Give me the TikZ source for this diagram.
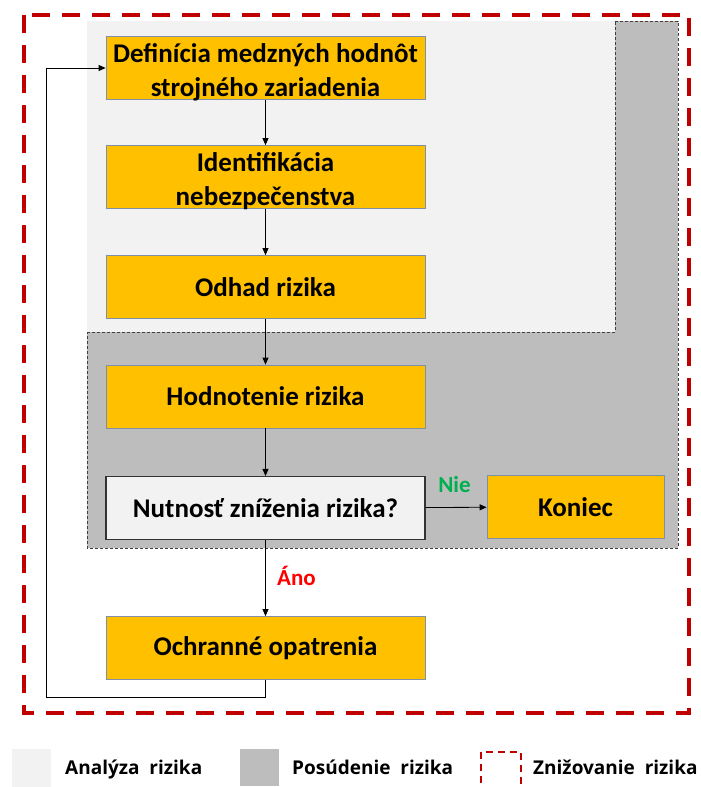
\documentclass[tikz,border=0pt]{standalone}
\usepackage{fontspec}
\setmainfont{Carlito}
\newfontfamily\legfont{Open Sans}
\usetikzlibrary{arrows.meta}
\definecolor{boxor}{HTML}{FFC000}
\definecolor{boxedge}{HTML}{7F8FA6}
\definecolor{lightbg}{HTML}{F2F2F2}
\definecolor{darkbg}{HTML}{BDBDBD}
\definecolor{redd}{HTML}{C00000}
\definecolor{nieg}{HTML}{00B050}
\definecolor{anor}{HTML}{FF0000}
\tikzset{
  stepbox/.style={draw=boxedge, line width=0.8pt, fill=boxor, minimum width=319pt, minimum height=63pt, align=center, font=\bfseries\fontsize{27}{34}\selectfont, inner sep=0pt},
  twoline/.style={label={[yshift=-4pt, align=center, font=\bfseries\fontsize{27}{34}\selectfont, inner sep=0pt]center:#1}},
  questbox/.style={stepbox, fill=lightbg, draw=black!80, line width=1.1pt},
  arr/.style={-{Triangle[length=7pt,width=6pt]}, line width=0.8pt, black},
  lbl/.style={font=\legfont\bfseries\fontsize{19}{22}\selectfont, anchor=west, inner sep=0pt},
  edgelbl/.style={font=\bfseries\fontsize{23}{26}\selectfont, inner sep=0pt},
  reddash/.style={draw=redd, line width=4pt, dash pattern=on 18pt off 12pt},
  graydash/.style={draw=black!75, line width=0.7pt, dash pattern=on 3pt off 2pt},
}
\begin{document}
\begin{tikzpicture}[x=1pt,y=-1pt]
\useasboundingbox (0,0) rectangle (701,787);
% regions
\fill[darkbg] (87,21) rectangle (678,548);
\draw[graydash] (87,21) rectangle (678,548);
\fill[lightbg] (87,21) rectangle (615,332);
\draw[graydash] (87,332) -- (615,332) -- (615,21);
\draw[reddash] (24,15) rectangle (689,713);
% boxes
\node[stepbox, twoline={Definícia medzných hodnôt\\strojného zariadenia}] (def) at (265.5,68) {};
\node[stepbox, twoline={Identifikácia\\nebezpečenstva}] (ident) at (265.5,177) {};
\node[stepbox] (odhad) at (265.5,287) {Odhad rizika};
\node[stepbox] (hodn) at (265.5,396.5) {Hodnotenie rizika};
\node[questbox] (nut) at (265.5,508) {Nutnosť zníženia rizika?};
\node[stepbox, minimum width=177pt] (kon) at (575.5,507) {Koniec};
\node[stepbox] (ochr) at (265.5,648) {Ochranné opatrenia};
\coordinate (loopL) at (46,697);
% connectors
\draw[arr] (def) -- (ident);
\draw[arr] (ident) -- (odhad);
\draw[arr] (odhad) -- (hodn);
\draw[arr] (hodn) -- (nut);
\draw[arr] (nut) -- (ochr);
\draw[arr] (nut) -- (kon);
\node[edgelbl, text=anor] (ano) at (296.5,576) {Áno};
\node[edgelbl, text=nieg] (nie) at (454.5,485) {Nie};
\draw[arr] (ochr.south) |- (loopL) |- (def.west);
% legend
\fill[lightbg] (12,749) rectangle (51,787);
\node[lbl] (la) at (65,769) {Analýza\ \ rizika};
\fill[darkbg] (240,749) rectangle (279,786);
\node[lbl] (lp) at (292,767) {Posúdenie\ \ rizika};
\draw[draw=redd, line width=2pt, dash pattern=on 7pt off 5pt] (481,752) rectangle (521,790);
\node[lbl] (lz) at (533,767) {Znižovanie\ \ rizika};
\end{tikzpicture}
\end{document}
